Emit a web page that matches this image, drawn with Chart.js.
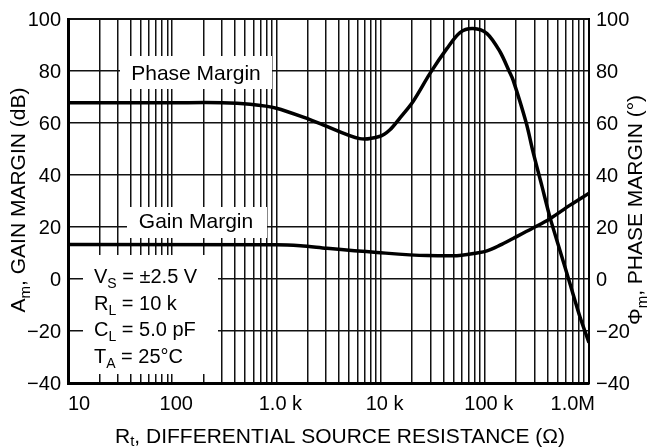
<!DOCTYPE html>
<html>
<head>
<meta charset="utf-8">
<script src="https://cdn.jsdelivr.net/npm/chart.js@4.4.0/dist/chart.umd.min.js"></script>
<style>
  html, body { margin: 0; padding: 0; background: #fff; }
</style>
</head>
<body>
<canvas id="chart" width="647" height="448"></canvas>
<script>
// Phase margin (right axis, degrees) vs differential source resistance (ohms)
const phaseR   = [10, 100, 300, 560, 1000, 2100, 2800, 6300, 9900, 12300, 15300, 20500, 29800, 43400, 57800, 77100, 105000, 140000, 171000, 187000, 250000, 290000, 352000, 423000, 527000, 658000, 820000, 1000000];
const phaseDeg = [67.8, 67.8, 67.8, 67.2, 65.7, 61.3, 59.3, 54.0, 54.9, 57.4, 61.9, 68.3, 79.1, 88.7, 94.8, 96.3, 94.4, 87.4, 80.0, 76.5, 60.0, 49.0, 36.0, 23.6, 10.9, -1.9, -14.6, -24.5];

// Gain margin (left axis, dB)
const gainR  = [10, 1000, 1700, 3060, 9230, 27900, 49500, 84100, 105000, 140000, 187000, 290000, 423000, 658000, 1000000];
const gainDb = [13.3, 13.2, 12.8, 11.8, 10.2, 9.0, 8.9, 10.0, 10.8, 13.0, 15.6, 19.6, 23.2, 28.4, 33.0];

// x grid: 1..9 per decade, labels on decades
const xDecades = [10, 100, 1000, 10000, 100000, 1000000];
const xLabels  = ["10", "100", "1.0 k", "10 k", "100 k", "1.0M"];
const xGrid = [];
for (let d = 10; d < 1000000; d *= 10) {
    for (let m = 1; m < 10; m++) xGrid.push(d * m);
}
xGrid.push(1000000);

const yTicks = [-40, -20, 0, 20, 40, 60, 80, 100];

const FONT = "'Liberation Sans', Arial, Helvetica, sans-serif";

function toPoints(xs, ys) {
    return xs.map((v, i) => ({x: v, y: ys[i]}));
}

function minus(v) {
    return v < 0 ? "\u2212" + Math.abs(v) : String(v);
}

// text with subscripts: parts = [[text, isSub], ...]
function drawRich(ctx, parts, x, y, size, align, subDrop) {
    const subSize = Math.round(size * 0.7);
    const drop = subDrop === undefined ? 5 : subDrop;
    let w = 0;
    parts.forEach(p => {
        ctx.font = (p[1] ? subSize : size) + "px " + FONT;
        w += ctx.measureText(p[0]).width;
    });
    let cx = align === "center" ? x - w / 2 : x;
    ctx.textAlign = "left";
    ctx.textBaseline = "alphabetic";
    parts.forEach(p => {
        ctx.font = (p[1] ? subSize : size) + "px " + FONT;
        ctx.fillText(p[0], cx, p[1] ? y + drop : y);
        cx += ctx.measureText(p[0]).width;
    });
}

const notes = {
    id: "notes",
    beforeDatasetsDraw(c) {
        const ctx = c.ctx;
        const ys = c.scales.y;
        ctx.save();
        // white boxes that cut the grid
        ctx.fillStyle = "#fff";
        const y80 = ys.getPixelForValue(80);
        const y20 = ys.getPixelForValue(20);
        ctx.fillRect(120, y80 - 15, 152, 33);
        ctx.fillRect(127, y20 - 20, 140, 31);
        ctx.fillRect(83, 255, 135, 119);

        ctx.fillStyle = "#000";
        drawRich(ctx, [["Phase Margin", false]], 196, y80 + 9, 21, "center");
        drawRich(ctx, [["Gain Margin", false]], 196, y20 + 1, 21, "center");

        const lines = [
            [["V", false], ["S", true], [" = \u00b12.5 V", false]],
            [["R", false], ["L", true], [" = 10 k", false]],
            [["C", false], ["L", true], [" = 5.0 pF", false]],
            [["T", false], ["A", true], [" = 25\u00b0C", false]]
        ];
        lines.forEach((l, i) => drawRich(ctx, l, 94, 283 + i * 26.5, 20, "left"));
        ctx.restore();
    },
    afterDraw(c) {
        const ctx = c.ctx;
        const xs = c.scales.x;
        ctx.save();
        ctx.fillStyle = "#000";
        ctx.font = "20px " + FONT;
        ctx.textBaseline = "alphabetic";
        xDecades.forEach((v, i) => {
            const px = xs.getPixelForValue(v);
            if (i === 0) {
                ctx.textAlign = "left";
                ctx.fillText(xLabels[i], px, 410);
            } else if (i === xDecades.length - 1) {
                ctx.textAlign = "right";
                ctx.fillText(xLabels[i], px + 6, 410);
            } else {
                ctx.textAlign = "center";
                ctx.fillText(xLabels[i], px + 4, 410);
            }
        });

        // axis titles
        drawRich(ctx, [["R", false], ["t", true], [", DIFFERENTIAL SOURCE RESISTANCE (\u03a9)", false]], 340, 443, 21, "center", 3);

        ctx.save();
        ctx.translate(25, 200);
        ctx.rotate(-Math.PI / 2);
        drawRich(ctx, [["A", false], ["m", true], [", GAIN MARGIN (dB)", false]], 0, 0, 21, "center");
        ctx.restore();

        ctx.save();
        ctx.translate(642, 210);
        ctx.rotate(-Math.PI / 2);
        drawRich(ctx, [["\u03a6", false], ["m", true], [", PHASE MARGIN (\u00b0)", false]], 0, 0, 21, "center");
        ctx.restore();

        ctx.restore();
    }
};

window.addEventListener("load", function () {
    const canvas = document.getElementById("chart");
    new Chart(canvas, {
        type: "line",
        data: {
            datasets: [
                {
                    label: "Gain Margin",
                    data: toPoints(gainR, gainDb),
                    yAxisID: "y",
                    borderColor: "#000",
                    borderWidth: 3.5,
                    pointRadius: 0,
                    cubicInterpolationMode: "monotone",
                    fill: false
                },
                {
                    label: "Phase Margin",
                    data: toPoints(phaseR, phaseDeg),
                    yAxisID: "y2",
                    borderColor: "#000",
                    borderWidth: 3.5,
                    pointRadius: 0,
                    tension: 0.3,
                    fill: false
                }
            ]
        },
        options: {
            responsive: false,
            animation: false,
            layout: { padding: { top: 17, left: 0, right: 0, bottom: 0 } },
            plugins: {
                legend: { display: false },
                tooltip: { enabled: false }
            },
            scales: {
                x: {
                    type: "logarithmic",
                    min: 10,
                    max: 1000000,
                    afterBuildTicks: s => { s.ticks = xGrid.map(v => ({value: v})); },
                    afterFit: s => { s.height = 65; },
                    ticks: { display: false },
                    grid: { color: "#111", lineWidth: 1.5, drawTicks: false },
                    border: { color: "#000", width: 3 }
                },
                y: {
                    position: "left",
                    min: -40,
                    max: 100,
                    afterBuildTicks: s => { s.ticks = yTicks.map(v => ({value: v})); },
                    afterFit: s => { s.width = 68; },
                    ticks: {
                        callback: v => minus(v),
                        color: "#000",
                        font: { family: FONT, size: 20 },
                        padding: 7,
                        labelOffset: 1
                    },
                    grid: {
                        color: "#111",
                        lineWidth: ctx => (ctx.tick && ctx.tick.value === 100 ? 2 : 1.5),
                        drawTicks: false
                    },
                    border: { color: "#000", width: 3 }
                },
                y2: {
                    position: "right",
                    min: -40,
                    max: 100,
                    afterBuildTicks: s => { s.ticks = yTicks.map(v => ({value: v})); },
                    afterFit: s => { s.width = 58; },
                    ticks: {
                        callback: v => minus(v),
                        color: "#000",
                        font: { family: FONT, size: 20 },
                        padding: 7,
                        labelOffset: 1
                    },
                    grid: { display: false, drawTicks: false },
                    border: { color: "#000", width: 2 }
                }
            }
        },
        plugins: [notes]
    });
});
</script>
</body>
</html>
